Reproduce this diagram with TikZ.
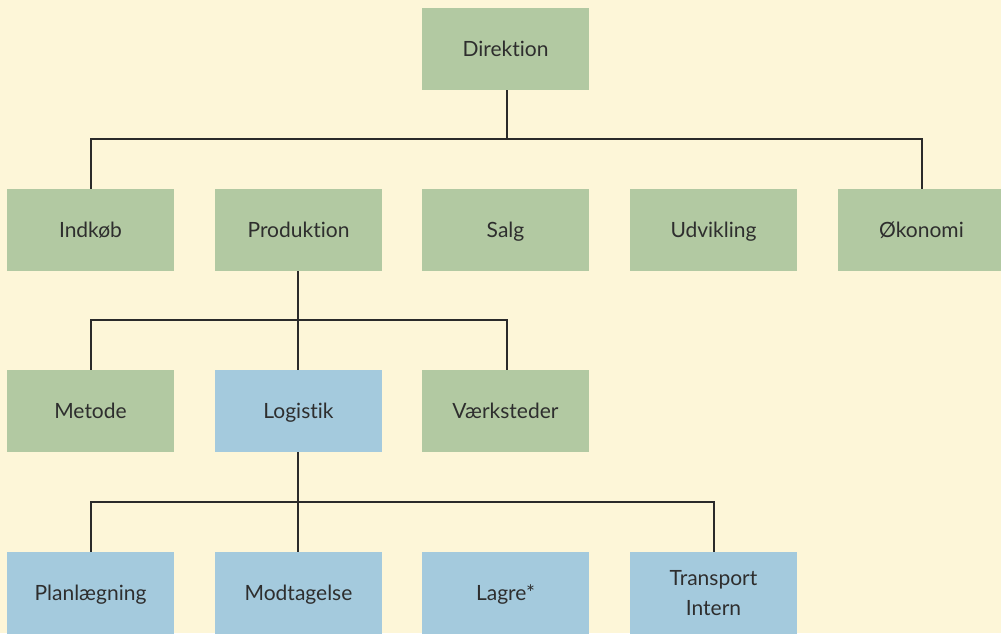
\documentclass[tikz,border=0pt]{standalone}
\usepackage{fontspec}
\setmainfont[Ligatures=NoCommon]{Lato}
\definecolor{bg}{HTML}{FDF6D8}
\definecolor{grn}{HTML}{B2C9A2}
\definecolor{blu}{HTML}{A4CADD}
\definecolor{txt}{HTML}{2E2E2E}
\definecolor{ln}{HTML}{2A2A2A}
\begin{document}
\begin{tikzpicture}[x=1pt,y=-1pt,
  basebox/.style={minimum width=167pt,minimum height=82pt,inner sep=0pt,text=txt,font=\fontsize{21}{30}\selectfont,align=center},
  box/.style={basebox,text height=17pt,text depth=3pt},
  gbox/.style={box,fill=grn},
  bbox/.style={box,fill=blu},
  bbox2/.style={basebox,fill=blu},
  conn/.style={draw=ln,line width=1.4pt}]
\fill[bg] (0,0) rectangle (1001,633);
\useasboundingbox (0,0) rectangle (1001,633);
\node[gbox] (dir) at (505.5,49) {Direktion};
\node[gbox] (ind) at (90.5,230) {Indkøb};
\node[gbox] (prod) at (298.5,230) {Produktion};
\node[gbox] (salg) at (505.5,230) {Salg};
\node[gbox] (udv) at (713.5,230) {Udvikling};
\node[gbox] (oko) at (921.5,230) {Økonomi};
\node[gbox] (met) at (90.5,411) {Metode};
\node[bbox] (log) at (298.5,411) {Logistik};
\node[gbox] (vaerk) at (505.5,411) {Værksteder};
\node[bbox] (plan) at (90.5,593) {Planlægning};
\node[bbox] (modt) at (298.5,593) {Modtagelse};
\node[bbox] (lagre) at (505.5,593) {Lagre*};
\node[bbox2] (trans) at (713.5,593) {Transport\\Intern};
\coordinate (j1) at (507,139);
\coordinate (j2) at (298,320);
\coordinate (j3) at (298,502);
\draw[conn] (dir.south -| j1) -- (j1);
\draw[conn] (ind.north -| 91,0) |- (j1) -| (oko.north -| 922,0);
\draw[conn] (prod.north -| 298,0) -- (prod.north -| 298,139);
\draw[conn] (salg.north -| 507,0) -- (salg.north -| 507,139);
\draw[conn] (udv.north -| 714,0) -- (udv.north -| 714,139);
\draw[conn] (prod.south -| j2) -- (j2);
\draw[conn] (met.north -| 91,0) |- (j2) -| (vaerk.north -| 507,0);
\draw[conn] (log.north -| 298,0) -- (j2);
\draw[conn] (log.south -| j3) -- (j3);
\draw[conn] (plan.north -| 91,0) |- (j3) -| (trans.north -| 714,0);
\draw[conn] (modt.north -| 298,0) -- (j3);
\draw[conn] (lagre.north -| 507,0) -- (lagre.north -| 507,502);
\end{tikzpicture}
\end{document}
